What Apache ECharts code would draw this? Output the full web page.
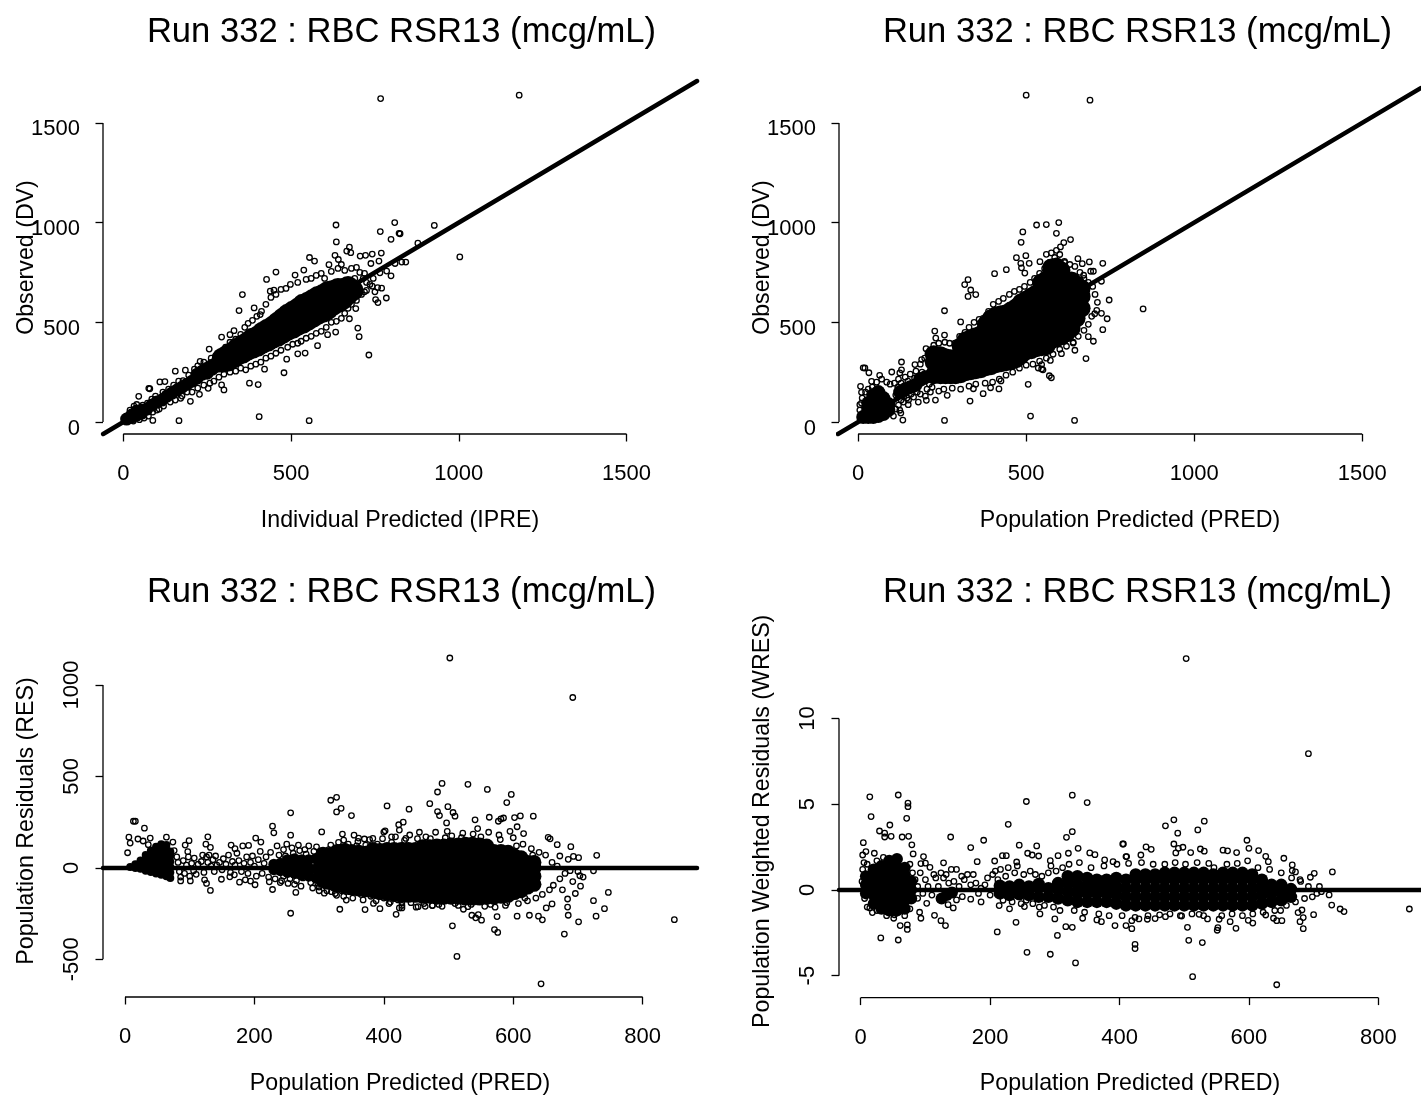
<!DOCTYPE html>
<html><head><meta charset="utf-8">
<style>html,body{margin:0;padding:0;background:#fff;overflow:hidden}#c{width:1421px;height:1097px}</style>
<script src="https://cdn.jsdelivr.net/npm/echarts@6/dist/echarts.min.js"></script>
</head><body><div id="c"></div>
<script>
const chartTitle = "Run 332 : RBC RSR13 (mcg/mL)";
const xTicks12 = [0,500,1000,1500];
const yTicks12 = [0,500,1000,1500];
const xTicks34 = [0,200,400,600,800];
const yTicks3 = [-500,0,500,1000];
const yTicks4 = [-5,0,5,10];

// Overplotted solid cores, read as columns: [x, [y values]]
const p1Core = [[10,[15]],[25,[25,35]],[40,[35,55]],[55,[45,60]],[70,[65]],[85,[85]],[100,[100]],[115,[110]],[130,[130]],[145,[145]],[160,[160]],[175,[175]],[190,[190]],[205,[205]],[220,[220,240]],[235,[240,255]],[250,[245,270]],[265,[265,285]],[280,[280,300]]];
const p1CoreWide = [[295,[300,320]],[310,[305,335]],[325,[320,350]],[340,[335,370]],[355,[345,385]],[370,[360,400]],[385,[370,420]],[400,[380,430]],[415,[395,450]],[430,[405,465]],[445,[420,480]],[460,[430,465,500]],[475,[445,480,520]],[490,[460,500,540]],[505,[470,510,555]],[520,[485,525,570]],[535,[495,540,590]],[550,[510,555,600]],[565,[525,570,615]],[580,[540,585,630]],[595,[550,595,640]],[610,[565,610,655]],[625,[585,620,660]],[640,[600,635,670]],[655,[615,670]],[670,[640,680]],[685,[660]]];
const p2Core = [[15,[25]],[30,[25,60,95]],[45,[25,60,100,135]],[60,[30,70,110,150]],[75,[40,80,120]],[90,[60,90]],[125,[150]],[140,[165]],[155,[175]],[170,[185]],[185,[215]],[200,[225]]];
const p2CoreWide = [[225,[235,300,340]],[245,[235,280,335]],[260,[235,290,325]],[275,[235,280,320]],[290,[235,275,310]],[305,[240,285,340,380]],[320,[250,300,360,410]],[335,[255,300,360,420]],[350,[260,310,370,430]],[365,[265,315,375,440]],[380,[275,325,385,445,490]],[395,[280,335,400,465,520]],[410,[290,345,410,475,535]],[425,[295,350,415,480,540]],[440,[300,355,420,485,545]],[455,[305,365,435,500,560]],[470,[315,375,445,515,575]],[485,[335,395,465,535,600]],[500,[355,415,485,555,615]],[515,[360,420,490,560,630]],[530,[370,430,500,570,645]],[545,[375,435,505,575,645,700]],[560,[380,440,510,580,650,715]],[575,[410,470,540,610,680,740,775]],[590,[420,480,550,620,690,760,780]],[605,[430,490,560,630,700,760]],[620,[445,505,575,645,705]],[635,[470,530,600,670,710]],[650,[520,580,650,690]],[665,[570,630,670]]];
const p3Wedge = [[8,[5]],[16,[0,20]],[24,[-5,20,40]],[32,[-15,10,40,70]],[40,[-22,5,35,65,95]],[48,[-30,0,30,60,90,115]],[56,[-38,-10,20,50,80,110,130]],[64,[-45,-20,10,40,70,100,125]],[70,[-55,-25,5,35,65,90]]];
const p3CoreNarrow = [[230,[-10,20]],[240,[-15,25]],[251,[-25,20,45]],[262,[-30,15,50]],[273,[-40,5,45]],[284,[-45,0,45]],[295,[-55,-5,50]]];
const p3Core = [[306,[-70,-20,30,75]],[317,[-80,-30,20,70]],[328,[-95,-45,5,55,90]],[339,[-100,-50,0,50,95]],[350,[-110,-60,-10,40,90]],[361,[-115,-65,-15,35,85]],[372,[-120,-70,-20,30,80]],[383,[-125,-75,-25,25,75,100]],[394,[-135,-85,-35,15,65,95]],[405,[-140,-90,-40,10,60,100]],[416,[-145,-95,-45,5,55,100]],[427,[-150,-100,-50,0,50,100]],[438,[-150,-100,-50,0,50,100]],[449,[-150,-100,-50,0,50,100]],[460,[-155,-105,-55,-5,45,95,115]],[471,[-155,-105,-55,-5,45,95,115]],[482,[-160,-110,-60,-10,40,90,120]],[493,[-160,-110,-60,-10,40,90,120]],[504,[-160,-110,-60,-10,40,90,125]],[515,[-160,-110,-60,-10,40,90,125]],[526,[-165,-115,-65,-15,35,85,130]],[537,[-165,-115,-65,-15,35,85,130]],[548,[-165,-115,-65,-15,35,85,125]],[559,[-160,-110,-60,-10,40,90,120]],[570,[-160,-110,-60,-10,40,90]],[581,[-155,-105,-55,-5,45,90]],[592,[-150,-100,-50,0,50,85]],[602,[-135,-85,-35,15,65]],[612,[-125,-75,-25,25,55]],[622,[-105,-60,-15,30]],[632,[-90,-45,0,30]]];
const p4Core = [[8,[-.2,.3,.8]],[20,[-.8,-.3,.2,.7,1.2]],[32,[-1.1,-.6,-.1,.4,.9,1.4]],[44,[-1.2,-.7,-.2,.3,.8,1.3,1.7]],[56,[-1.2,-.7,-.2,.3,.8,1.3,1.8]],[68,[-1.1,-.6,-.1,.4,.9,1.3]],[78,[-.5,0,.5]],[125,[-.5]],[133,[-.3]],[141,[-.15]]];
const p4CoreWide = [[215,[-.2,.25]],[230,[-.3,.2]],[245,[-.25,.3]],[260,[-.3,.2]],[275,[-.4,.15,.35]],[290,[-.4,.1]],[305,[-.5,0,.4]],[320,[-.6,-.1,.4,.8]],[335,[-.7,-.2,.3,.8]],[350,[-.7,-.2,.3,.7]],[365,[-.7,-.2,.3,.6]],[380,[-.7,-.2,.3,.6]],[395,[-.8,-.3,.2,.7]],[410,[-.9,-.4,.1,.6]],[425,[-.9,-.4,.1,.6,.9]],[440,[-.9,-.4,.1,.6,.9]],[455,[-.9,-.4,.1,.6,.9]],[470,[-.9,-.4,.1,.6,1]],[485,[-.9,-.4,.1,.6,1]],[500,[-.9,-.4,.1,.6,1]],[515,[-.9,-.4,.1,.6,1]],[530,[-.9,-.4,.1,.6,1]],[545,[-.9,-.4,.1,.6,.9]],[560,[-.9,-.4,.1,.6,1]],[575,[-.9,-.4,.1,.6,1]],[590,[-.9,-.4,.1,.6,1]],[605,[-.9,-.4,.1,.6,.9]],[620,[-.8,-.3,.2,.6]],[635,[-.7,-.2,.3]],[650,[-.6,-.1,.3]],[665,[-.4,.05]]];

// Individually readable open circles: [x, y]
const p1Rings = [[767,1622],[1180,1639],[634,988],[635,903],[809,1000],[766,955],[798,916],[822,946],[555,825],[570,807],[455,752],[427,715],[355,639],[345,559],[390,572],[408,539],[438,656],[449,661],[512,737],[538,762],[674,877],[666,857],[678,849],[631,836],[641,815],[613,789],[706,832],[722,836],[742,842],[769,847],[762,807],[738,795],[810,795],[719,745],[785,757],[798,733],[765,748],[719,653],[750,653],[770,671],[758,674],[742,681],[752,614],[759,599],[784,622],[693,569],[674,518],[699,471],[703,428],[732,336],[633,451],[609,438],[579,383],[542,346],[520,342],[487,315],[479,247],[402,188],[376,195],[421,265],[405,27],[554,7],[166,7],[88,8],[200,104],[171,119],[107,65],[46,129],[76,169],[79,167],[109,201],[124,203],[155,255],[185,260],[229,304],[256,366],[293,426],[318,438],[330,458],[227,139],[253,169],[300,161],[293,186],[927,986],[878,897],[1003,828],[842,802],[830,802],[825,944],
[20,60],[32,80],[40,88],[58,85],[72,95],[85,115],[96,130],[118,150],[135,165],[150,185],[165,205],[178,208],[195,235],[212,265],[222,282],[240,300],[262,320],[275,330],[290,345],[305,375],[318,400],[335,415],[350,440],[362,475],[372,495],[385,510],[398,530],[412,555],[425,590],[440,625],[455,640],[470,665],[485,670],[498,690],[520,700],[545,715],[560,720],[575,735],[590,745],[600,720],[620,755],[640,770],[650,790],[660,760],[680,770],[695,775],[705,750],[715,720],[725,700],[735,690],[745,720],[700,680],[690,720],
[30,5],[48,12],[62,20],[75,30],[88,50],[100,60],[120,80],[140,100],[155,110],[175,130],[190,150],[205,150],[222,170],[240,185],[258,195],[270,205],[285,225],[300,240],[318,250],[335,255],[350,270],[365,262],[380,280],[395,290],[410,300],[425,320],[440,330],[455,345],[470,360],[490,375],[505,390],[520,395],[530,405],[545,420],[560,430],[575,445],[590,455],[605,475],[620,500],[635,505],[650,520],[660,545],[670,570],[680,590],[695,610],[710,640],[725,660]];
const p2Rings = [[500,1639],[690,1614],[597,1000],[560,990],[531,988],[490,953],[590,946],[632,915],[612,900],[485,901],[602,878],[471,824],[499,834],[484,796],[486,773],[509,796],[496,747],[441,764],[406,744],[327,714],[317,689],[335,662],[350,639],[327,630],[257,558],[305,502],[228,456],[231,421],[257,436],[202,368],[129,301],[15,272],[20,271],[32,247],[64,234],[100,251],[129,262],[124,246],[169,288],[189,313],[208,346],[7,179],[10,149],[40,204],[5,87],[133,10],[127,45],[124,59],[149,87],[179,100],[203,109],[230,110],[265,134],[333,105],[372,142],[394,172],[419,166],[343,167],[425,206],[506,189],[257,8],[513,30],[644,8],[575,222],[569,232],[536,271],[546,266],[550,262],[572,309],[546,288],[678,318],[605,343],[645,360],[640,396],[700,405],[685,428],[728,463],[741,518],[724,545],[704,543],[848,567],[747,612],[724,706],[728,796],[688,803],[654,819],[667,794],[700,756],[692,756],[671,736],[614,806],[560,841],[541,804],[575,848],[590,861],
[5,60],[10,95],[12,120],[22,150],[30,165],[42,175],[55,200],[70,215],[85,200],[95,190],[108,195],[120,215],[140,225],[155,240],[172,255],[185,290],[198,320],[212,345],[225,385],[240,395],[258,400],[272,395],[288,395],[302,430],[318,450],[330,475],[345,500],[360,515],[372,520],[388,555],[402,590],[418,605],[432,620],[450,640],[465,655],[480,665],[495,680],[512,700],[525,720],[540,745],[555,770],[570,800],[585,825],[600,840],[615,800],[630,790],[645,780],[660,750],[672,720],[685,700],[698,680],[705,640],[712,600],
[105,30],[112,65],[120,85],[135,100],[150,110],[165,125],[185,140],[200,130],[215,150],[240,155],[255,165],[280,170],[305,165],[330,180],[350,190],[378,195],[400,200],[420,215],[440,235],[460,250],[480,270],[500,285],[520,290],[540,305],[560,320],[580,340],[600,365],[620,380],[640,400],[655,430],[672,460],[685,490],[695,530],[710,560],
[112,135],[118,175],[128,195],[136,130],[148,205],[158,140],[168,220],[176,150],[190,250],[205,165],[212,190],[220,175],[128,110],[145,120]];
const p3Rings = [[502,1148],[692,932],[13,255],[16,255],[30,217],[6,168],[8,136],[20,158],[28,147],[39,163],[36,127],[4,83],[64,168],[74,141],[128,170],[125,130],[132,112],[99,149],[93,125],[97,89],[107,54],[164,125],[170,105],[182,120],[191,123],[202,163],[210,141],[228,228],[230,192],[256,301],[256,179],[304,197],[318,370],[327,386],[327,306],[334,326],[350,286],[336,185],[338,152],[405,339],[439,321],[423,236],[430,250],[424,207],[400,196],[402,203],[412,170],[434,161],[383,161],[370,158],[361,163],[354,179],[86,-71],[101,-71],[123,-65],[126,-85],[132,-123],[149,-62],[162,-49],[169,-38],[177,-78],[186,-65],[194,-72],[201,-92],[223,-76],[228,-118],[240,-80],[264,-134],[256,-248],[332,-226],[371,-228],[342,-176],[384,-194],[394,-223],[419,-254],[424,-219],[428,-188],[410,-187],[308,-138],[300,-125],[319,-130],[327,-150],[342,-129],[355,-132],
[490,462],[483,415],[530,457],[560,429],[597,402],[590,357],[471,351],[499,335],[483,308],[486,286],[507,303],[510,283],[497,246],[541,263],[563,277],[577,255],[581,268],[585,273],[602,275],[611,284],[631,283],[606,225],[616,188],[654,167],[657,159],[668,127],[689,116],[729,69],[701,56],[693,63],[672,65],[685,47],[724,-16],[703,-43],[747,-134],[741,-223],[724,-179],[728,-264],[701,-295],[685,-259],[679,-362],[643,-634],[849,-283],[513,-484],[506,-317],[571,-337],[576,-353],[536,-259],[542,-273],[551,-286],[546,-255],[575,-266],[606,-264],[639,-264],[645,-284],[625,-259],[651,-219],[660,-197],[684,-214],[523,-226],[453,-212],[464,-210],[475,-206],[428,-219],
[76,95],[80,60],[82,30],[84,-20],[86,-50],[90,40],[92,-30],[95,15],[98,60],[100,-45],[103,25],[106,-15],[110,-35],[113,20],[118,35],[120,70],[122,-25],[126,60],[128,30],[130,70],[133,10],[136,45],[138,-20],[140,65],[142,15],[146,30],[150,-10],[152,50],[156,20],[160,70],[163,-25],[166,35],[170,15],[173,80],[176,40],[180,-20],[184,25],[188,60],[190,-30],[194,30],[197,65],[200,10],[203,-45],[206,45],[209,90],[212,-30],[215,25],[218,60],[222,-50],[225,85],[228,10],[232,-60],[235,120],[238,70],[242,-70],[245,100],[250,130],[252,-85],[258,110],[262,-90],[268,125],[272,-100],[278,100],[284,120],[290,-110],[296,115],[300,-105],[305,90],[312,-125],[318,125],[325,-140],[330,140],[338,-155],[345,130],[352,-165],[360,145],[368,-175],[378,155],[388,-180],[398,160],[408,-195],[418,170],[428,-205],
[440,180],[450,-215],[455,195],[465,170],[475,-205],[480,195],[490,-210],[498,200],[505,175],[515,-205],[522,190],[530,-212],[538,185],[545,215],[556,-210],[562,195],[572,-215],[578,180],[588,-205],[595,200],[600,165],[608,-195],[615,130],[622,-180],[628,105],[635,-165],[640,85],[645,-145],[650,70],[656,-120],[660,30],[662,-95],[668,10],[672,-60],[676,-120],[680,-30],[684,-170],[688,-15],[692,-75],[696,-140],[700,-20],[704,-100],[708,-50],
[245,-45],[248,65],[255,-60],[260,80],[265,-70],[270,95],[275,-55],[280,75],[287,-80],[292,90],[298,-85],[303,70],[310,-100],[315,100],[322,-110],[328,110],[335,-125],[342,115],[348,-130],[358,120],[365,-145],[372,125],[380,-155],[390,130],[400,-165],[412,140],[422,-175],[432,150],[442,-190],[452,160],[462,-195],[472,160],[485,-200],[495,165],[510,-195],[520,165],[535,-200],[550,170],[565,-200],[580,155],[590,-190],[605,120],[618,-165],[630,70]];
const p4Rings = [[503,13.5],[692,7.95],[14,5.43],[58,5.54],[73,5.06],[73,4.86],[16,4.28],[71,4.18],[45,3.79],[29,3.44],[37,3.31],[37,3.09],[47,3.13],[64,3.09],[74,3.13],[4,2.76],[79,2.63],[3,2.04],[8,2.24],[21,2.14],[81,2.1],[97,1.95],[93,1.54],[100,1.56],[107,1.32],[139,3.09],[128,1.58],[170,2.47],[190,2.9],[180,1.65],[207,1.69],[219,2],[225,2],[256,5.16],[228,3.83],[245,2.61],[272,2.57],[258,2.14],[265,2.04],[275,1.98],[241,1.63],[327,5.53],[350,5.1],[327,3.4],[318,3.07],[336,2.43],[321,2.14],[305,2],[293,1.71],[354,2.16],[362,2.06],[405,2.68],[377,1.75],[390,1.65],[410,1.95],
[31,-2.8],[58,-2.92],[18,-1.32],[72,-2.3],[72,-2.04],[61,-2.08],[51,-1.65],[91,-1.3],[93,-1.65],[114,-1.48],[124,-1.79],[131,-2.08],[135,-.86],[143,-1.05],[102,-.78],[88,-.49],[148,-.58],[157,-.39],[170,-.54],[186,-.7],[211,-2.45],[240,-1.89],[257,-3.64],[293,-3.75],[332,-4.26],[304,-2.65],[317,-2.14],[327,-2.18],[277,-1.4],[300,-1.69],[214,-.91],[230,-1.1],[253,-.97],[343,-1.65],[365,-1.75],[372,-1.85],[393,-2.08],
[484,4.09],[471,3.74],[531,4.01],[490,3.31],[521,3.5],[406,2.68],[484,2.68],[491,2.43],[498,2.49],[510,2.18],[525,2.39],[531,2.26],[487,2.16],[441,2.51],[449,2.37],[433,2.04],[411,1.95],[560,2.32],[567,2.28],[597,2.9],[581,2.18],[600,2.43],[615,2.3],[626,1.96],[630,1.65],[654,1.85],[667,1.46],[667,1.13],[672,1.05],[701,.97],[729,1.05],[679,.6],[695,.74],[709,.2],[724,-.29],[728,-.88],[741,-1.11],[747,-1.26],[848,-1.11],[700,-1.44],[684,-1.61],[679,-1.85],[684,-2.26],[651,-1.79],[638,-1.65],[643,-1.79],[606,-1.93],[599,-1.77],[580,-2.24],[552,-2.2],[551,-2.35],[554,-1.71],[536,-1.69],[505,-2.18],[507,-2.94],[528,-3.07],[513,-5.06],[643,-5.53],[424,-3.17],[424,-3.42],[419,-2.26],[410,-2.08],[419,-1.79],[430,-1.69],[443,-1.71],[455,-1.67],[471,-1.56],[496,-1.52],[523,-1.42],[571,-1.85],[626,-1.46],[649,-1.2],[676,-1.32],[682,-1.17],
[2,.5],[3,1.2],[5,1.6],[6,-.5],[10,-1],[14,-1.05],[10,1.5],[25,1.7],[35,1.9],[25,-1.2],[40,-1.5],[52,-1.45],[68,-1.5],[76,-1.1],[80,1],[76,1.5],
[84,.6],[88,.2],[92,1],[96,-.2],[100,.6],[104,.2],[110,-.3],[113,.9],[116,.7],[120,.2],[124,1.0],[128,.7],[132,.9],[136,.4],[140,1.2],[144,.5],[148,1.2],[152,.2],[156,.8],[160,.6],[165,.9],[170,.3],[174,.9],[178,.4],[182,-.2],[186,.1],[192,.3],[196,.7],[200,-.3],[204,.9],[208,1.1],[212,.6],[216,1.2],[220,-.6],[224,.8],[228,1.3],[234,-.7],[238,1.0],[242,1.4],[248,-.8],[252,.9],[256,-.6],[262,1.1],[266,-.8],[270,.9],[276,-1.0],[280,.8],[284,-.9],[290,1.0],[294,1.4],[298,-1.0],[302,1.1],[308,-1.2],[312,1.3],[322,1.5],[330,-1.2],[338,1.6],[346,-1.3],[356,1.3],[368,-1.4],[376,1.4],[384,-1.5],[396,1.5],[404,-1.5],[414,1.55],[424,-1.6],[434,1.6],[444,-1.5],[452,1.5],[462,-1.45],[470,1.5],[478,-1.4],[486,1.6],[494,-1.5],[502,1.5],[512,-1.4],[520,1.6],[530,-1.5],[538,1.55],[546,1.3],[558,-1.5],[566,1.5],[574,-1.4],[582,1.55],[590,-1.5],[598,1.7],[606,-1.4],[614,1.3],[622,-1.3],[632,1.2],[640,-1.2],[650,1.0],[658,-.9],[666,.7],[672,-.7],[680,.5],[686,-.5],[692,.2],[698,-.4],[705,-.2],[712,-.1]];

// Reference lines, as [x, y] end points
const identity1 = [[-60,-60],[1710,1710]];
const identity2 = [[-60,-60],[1674,1674]];
const zero3 = [[-34,0],[884,0]];
const zero4 = [[-33.6,0],[866,0]];

const FONT = '"Liberation Sans", Arial, sans-serif';
const flat = cols => cols.flatMap(([x, ys]) => ys.map(y => [x, y]));

const panels = [
 {left:103,top:81,w:594,h:353,xr:[-60.5,1710],yr:[-60,1710],xt:xTicks12,yt:yTicks12,xn:'Individual Predicted (IPRE)',yn:'Observed (DV)',rot:0,line:identity1,
  cores:[[flat(p1Core),13],[flat(p1CoreWide),21]],rings:p1Rings},
 {left:839,top:81,w:582,h:353,xr:[-57,1675],yr:[-60,1710],xt:xTicks12,yt:yTicks12,xn:'Population Predicted (PRED)',yn:'Observed (DV)',rot:0,line:identity2,
  cores:[[flat(p2Core),14],[flat(p2CoreWide),18]],rings:p2Rings},
 {left:103,top:645,w:594,h:352,xr:[-34,884],yr:[-706,1219],xt:xTicks34,yt:yTicks3,xn:'Population Predicted (PRED)',yn:'Population Residuals (RES)',rot:90,line:zero3,
  cores:[[flat(p3Wedge),8],[flat(p3CoreNarrow),11],[flat(p3Core),15]],rings:p3Rings},
 {left:839,top:645,w:582,h:352.6,xr:[-33.6,866],yr:[-6.28,14.29],xt:xTicks34,yt:yTicks4,xn:'Population Predicted (PRED)',yn:'Population Weighted Residuals (WRES)',rot:90,line:zero4,
  cores:[[flat(p4Core),12],[flat(p4CoreWide),12.5]],rings:p4Rings}
];
const TXT = '#000';
const option = {animation:false,backgroundColor:'#fff',grid:[],xAxis:[],yAxis:[],title:[],series:[]};
panels.forEach((p,i)=>{
  option.grid.push({left:p.left,top:p.top,width:p.w,height:p.h,containLabel:false,outerBoundsMode:'none'});
  option.title.push({text:chartTitle,left:p.left+594/2-3.5,top:p.top<100?10:570,textAlign:'center',
    textStyle:{fontFamily:FONT,fontSize:34.6,fontWeight:'normal',color:TXT}});
  option.xAxis.push({type:'value',gridIndex:i,min:p.xr[0],max:p.xr[1],name:p.xn,nameLocation:'middle',nameGap:75,nameMoveOverlap:false,
    nameTextStyle:{fontFamily:FONT,fontSize:23.2,color:TXT},splitLine:{show:false},axisLine:{show:false,onZero:false},
    axisTick:{show:true,length:7.5,lineStyle:{color:TXT,width:1.3},customValues:p.xt},
    axisLabel:{show:true,margin:29,fontFamily:FONT,fontSize:22,color:TXT,customValues:p.xt,formatter:v=>String(v)}});
  option.yAxis.push({type:'value',gridIndex:i,min:p.yr[0],max:p.yr[1],name:p.yn,nameLocation:'middle',nameGap:65,nameMoveOverlap:false,
    nameTextStyle:{fontFamily:FONT,fontSize:23.2,color:TXT},splitLine:{show:false},axisLine:{show:false,onZero:false},
    axisTick:{show:true,length:7.5,lineStyle:{color:TXT,width:1.3},customValues:p.yt},
    axisLabel:p.rot?{show:true,margin:20,rotate:p.rot,fontFamily:FONT,fontSize:22,color:TXT,customValues:p.yt,formatter:v=>String(v)}
      :{show:true,margin:23,rotate:0,verticalAlign:'top',lineHeight:13,fontFamily:FONT,fontSize:22,color:TXT,customValues:p.yt,formatter:v=>String(v)}});
  const base={xAxisIndex:i,yAxisIndex:i,silent:true};
  p.cores.forEach(([d,s])=>option.series.push({...base,type:'scatter',data:d,symbolSize:s,itemStyle:{color:'#000',opacity:1}}));
  option.series.push({...base,type:'scatter',data:p.rings,symbolSize:5.5,itemStyle:{color:'rgba(0,0,0,0)',borderColor:'#000',borderWidth:1.3,opacity:1}});
  option.series.push({...base,type:'line',data:p.line,symbol:'none',clip:false,lineStyle:{color:'#000',width:4.5,cap:'round'}});
  const xEnds=[p.xt[0],p.xt[p.xt.length-1]], yEnds=[p.yt[0],p.yt[p.yt.length-1]];
  option.series.push({...base,type:'line',data:xEnds.map(x=>[x,p.yr[0]]),symbol:'none',clip:false,lineStyle:{color:TXT,width:1.3}});
  option.series.push({...base,type:'line',data:yEnds.map(y=>[p.xr[0],y]),symbol:'none',clip:false,lineStyle:{color:TXT,width:1.3}});
});
echarts.init(document.getElementById('c'),null,{renderer:'canvas'}).setOption(option);
</script></body></html>
